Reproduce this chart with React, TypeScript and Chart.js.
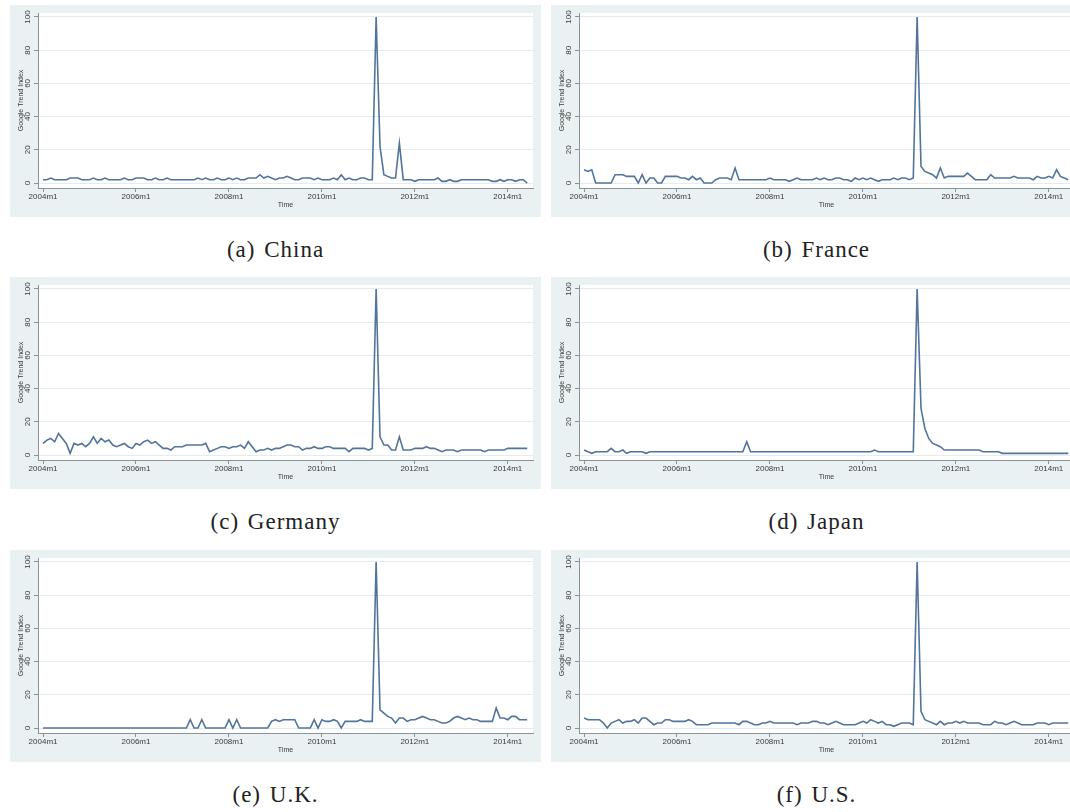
import React, { useEffect, useRef } from "react";
import { Chart, registerables } from "chart.js";

Chart.register(...registerables);

// Monthly Google Trend Index, 2004m1 .. 2014m6 (126 months)
const X_TICK_POS = [0, 24, 48, 72, 96, 120];
const X_TICK_LABELS = ["2004m1", "2006m1", "2008m1", "2010m1", "2012m1", "2014m1"];
const Y_TICKS = [0, 20, 40, 60, 80, 100];

const CHINA = [
  2, 2, 3, 2, 2, 2, 2, 3, 3, 3, 2, 2,
  2, 3, 2, 2, 3, 2, 2, 2, 2, 3, 2, 2,
  3, 3, 3, 2, 2, 3, 2, 2, 3, 2, 2, 2,
  2, 2, 2, 2, 3, 2, 3, 2, 2, 3, 2, 2,
  3, 2, 3, 2, 2, 3, 3, 3, 5, 3, 4, 3,
  2, 3, 3, 4, 3, 2, 2, 3, 3, 3, 2, 3,
  2, 2, 2, 3, 2, 5, 2, 3, 2, 2, 3, 3,
  2, 2, 100, 22, 5, 4, 3, 3, 24, 2, 2, 2,
  1, 2, 2, 2, 2, 2, 3, 1, 1, 2, 1, 1,
  2, 2, 2, 2, 2, 2, 2, 2, 1, 1, 2, 1,
  2, 2, 1, 2, 2, 0,
];

const FRANCE = [
  8, 7, 8, 0, 0, 0, 0, 0, 5, 5, 5, 4,
  4, 4, 0, 5, 0, 3, 3, 0, 0, 4, 4, 4,
  4, 3, 3, 2, 4, 2, 3, 0, 0, 0, 2, 3,
  3, 3, 2, 9, 2, 2, 2, 2, 2, 2, 2, 2,
  3, 2, 2, 2, 2, 1, 2, 3, 2, 2, 2, 2,
  3, 2, 3, 2, 2, 3, 3, 2, 2, 1, 3, 2,
  3, 2, 3, 2, 1, 2, 2, 2, 3, 2, 3, 3,
  2, 3, 100, 10, 7, 6, 5, 3, 9, 3, 4, 4,
  4, 4, 4, 6, 4, 2, 2, 2, 2, 5, 3, 3,
  3, 3, 3, 4, 3, 3, 3, 3, 2, 4, 3, 3,
  4, 3, 8, 4, 3, 2,
];

const GERMANY = [
  7, 9, 10, 8, 13, 10, 7, 1, 7, 6, 7, 5,
  7, 11, 7, 10, 8, 9, 6, 5, 6, 7, 5, 4,
  7, 6, 8, 9, 7, 8, 6, 4, 4, 3, 5, 5,
  5, 6, 6, 6, 6, 6, 7, 2, 3, 4, 5, 5,
  4, 5, 5, 6, 4, 8, 5, 2, 3, 3, 4, 3,
  4, 4, 5, 6, 6, 5, 5, 3, 4, 4, 5, 4,
  4, 5, 5, 4, 4, 4, 4, 2, 4, 4, 4, 4,
  3, 4, 100, 11, 6, 6, 3, 3, 11, 3, 3, 3,
  4, 4, 4, 5, 4, 4, 3, 2, 3, 3, 3, 2,
  3, 3, 3, 3, 3, 3, 2, 3, 3, 3, 3, 3,
  4, 4, 4, 4, 4, 4,
];

const JAPAN = [
  3, 2, 1, 2, 2, 2, 2, 4, 2, 2, 3, 1,
  2, 2, 2, 2, 1, 2, 2, 2, 2, 2, 2, 2,
  2, 2, 2, 2, 2, 2, 2, 2, 2, 2, 2, 2,
  2, 2, 2, 2, 2, 2, 8, 2, 2, 2, 2, 2,
  2, 2, 2, 2, 2, 2, 2, 2, 2, 2, 2, 2,
  2, 2, 2, 2, 2, 2, 2, 2, 2, 2, 2, 2,
  2, 2, 2, 3, 2, 2, 2, 2, 2, 2, 2, 2,
  2, 2, 100, 28, 16, 10, 7, 6, 5, 3, 3, 3,
  3, 3, 3, 3, 3, 3, 3, 2, 2, 2, 2, 2,
  1, 1, 1, 1, 1, 1, 1, 1, 1, 1, 1, 1,
  1, 1, 1, 1, 1, 1,
];

const UK = [
  0, 0, 0, 0, 0, 0, 0, 0, 0, 0, 0, 0,
  0, 0, 0, 0, 0, 0, 0, 0, 0, 0, 0, 0,
  0, 0, 0, 0, 0, 0, 0, 0, 0, 0, 0, 0,
  0, 0, 5, 0, 0, 5, 0, 0, 0, 0, 0, 0,
  5, 0, 5, 0, 0, 0, 0, 0, 0, 0, 0, 4,
  5, 4, 5, 5, 5, 5, 0, 0, 0, 0, 5, 0,
  5, 4, 4, 5, 4, 0, 4, 4, 4, 4, 5, 4,
  4, 4, 100, 11, 9, 7, 6, 3, 6, 6, 4, 5,
  5, 6, 7, 6, 5, 5, 4, 3, 3, 4, 6, 7,
  6, 5, 6, 5, 5, 4, 4, 4, 4, 12, 6, 6,
  5, 7, 7, 5, 5, 5,
];

const US = [
  6, 5, 5, 5, 5, 3, 0, 3, 4, 5, 3, 4,
  4, 5, 3, 6, 6, 4, 2, 3, 3, 5, 5, 4,
  4, 4, 4, 5, 4, 2, 2, 2, 2, 3, 3, 3,
  3, 3, 3, 3, 2, 4, 4, 3, 2, 2, 3, 3,
  4, 3, 3, 3, 3, 3, 3, 2, 3, 3, 3, 4,
  4, 3, 3, 2, 3, 4, 3, 2, 2, 2, 2, 3,
  4, 3, 5, 4, 3, 4, 2, 2, 1, 2, 3, 3,
  3, 2, 100, 10, 5, 4, 3, 2, 4, 2, 3, 3,
  4, 3, 4, 3, 3, 3, 3, 2, 2, 2, 4, 3,
  3, 2, 3, 4, 3, 2, 2, 2, 2, 3, 3, 3,
  2, 3, 3, 3, 3, 3,
];

const PANEL_TAGS = ["(a)", "(b)", "(c)", "(d)", "(e)", "(f)"];
const PANEL_NAMES = ["China", "France", "Germany", "Japan", "U.K.", "U.S."];
const PANEL_DATA = [CHINA, FRANCE, GERMANY, JAPAN, UK, US];

const Y_TITLE = "Google Trend Index";
const X_TITLE = "Time";

const PANEL_W = 531;
const PANEL_H = 212;
const COL_LEFT = [10, 551];
const ROW_TOP = [5, 277, 550];
const CAPTION_Y = [250, 522, 795];

const SANS = "'Liberation Sans', Arial, sans-serif";
const AXIS_COLOR = "#8d9296";
const TEXT_COLOR = "#3a3a3a";

const panelBg = {
  id: "panelBg",
  beforeDraw(chart: any) {
    const { ctx, width, height, chartArea } = chart;
    ctx.save();
    ctx.fillStyle = "#eaf1f3";
    ctx.fillRect(0, 0, width, height);
    ctx.fillStyle = "#ffffff";
    ctx.fillRect(
      chartArea.left,
      chartArea.top,
      chartArea.right - chartArea.left,
      chartArea.bottom - chartArea.top
    );
    ctx.restore();
  },
};

function Panel({ values }: { values: number[] }) {
  const ref = useRef<HTMLCanvasElement | null>(null);
  useEffect(() => {
    if (!ref.current) return;
    const chart = new Chart(ref.current, {
      type: "line",
      data: {
        datasets: [
          {
            data: values.map((v, i) => ({ x: i, y: v })),
            borderColor: "#52749a",
            borderWidth: 1.6,
            pointRadius: 0,
            tension: 0,
            fill: false,
          },
        ],
      },
      options: {
        responsive: false,
        animation: false,
        events: [],
        layout: { padding: { left: 0, top: 8, right: 8, bottom: 0 } },
        plugins: {
          legend: { display: false },
          tooltip: { enabled: false },
        },
        scales: {
          x: {
            type: "linear",
            min: -1.3,
            max: 126.5,
            afterBuildTicks: (s: any) => {
              s.ticks = X_TICK_POS.map((v) => ({ value: v }));
            },
            afterFit: (s: any) => {
              s.height = 29;
            },
            ticks: {
              autoSkip: false,
              maxRotation: 0,
              minRotation: 0,
              padding: 0,
              color: TEXT_COLOR,
              font: { family: SANS, size: 8 },
              callback: (_v: any, i: number) => X_TICK_LABELS[i],
            },
            grid: {
              drawOnChartArea: false,
              drawTicks: true,
              tickLength: 4,
              tickColor: AXIS_COLOR,
              color: AXIS_COLOR,
            },
            border: { display: true, color: AXIS_COLOR, width: 1 },
            title: {
              display: true,
              text: X_TITLE,
              color: TEXT_COLOR,
              font: { family: SANS, size: 7 },
              padding: { top: 0, bottom: 8 },
            },
          },
          y: {
            type: "linear",
            min: -3,
            max: 102.4,
            afterBuildTicks: (s: any) => {
              s.ticks = Y_TICKS.map((v) => ({ value: v }));
            },
            afterFit: (s: any) => {
              s.width = 28;
            },
            ticks: {
              minRotation: 90,
              maxRotation: 90,
              crossAlign: "center",
              padding: 0,
              color: TEXT_COLOR,
              font: { family: SANS, size: 8 },
              callback: (_v: any, i: number) => String(Y_TICKS[i]),
            },
            grid: {
              drawOnChartArea: true,
              drawTicks: true,
              tickLength: 4,
              tickColor: AXIS_COLOR,
              color: "#e3ecef",
              lineWidth: 1,
            },
            border: { display: true, color: AXIS_COLOR, width: 1 },
            title: {
              display: true,
              text: Y_TITLE,
              color: TEXT_COLOR,
              font: { family: SANS, size: 7 },
              padding: { top: 7, bottom: 0 },
            },
          },
        },
      } as any,
      plugins: [panelBg],
    });
    return () => chart.destroy();
  }, [values]);
  return (
    <canvas
      ref={ref}
      width={PANEL_W}
      height={PANEL_H}
      style={{ display: "block", width: PANEL_W, height: PANEL_H }}
    />
  );
}

export default function App() {
  return (
    <div
      style={{
        position: "fixed",
        left: 0,
        top: 0,
        width: 1070,
        height: 812,
        overflow: "hidden",
        background: "#ffffff",
      }}
    >
      {PANEL_DATA.map((values, k) => {
        const col = k % 2;
        const row = Math.floor(k / 2);
        const left = COL_LEFT[col];
        return (
          <React.Fragment key={k}>
            <div style={{ position: "absolute", left, top: ROW_TOP[row] }}>
              <Panel values={values} />
            </div>
            <div
              style={{
                position: "absolute",
                left,
                width: PANEL_W,
                top: CAPTION_Y[row] - 15,
                height: 30,
                lineHeight: "30px",
                textAlign: "center",
                fontFamily: "'Liberation Serif', 'Times New Roman', serif",
                fontSize: 23,
                letterSpacing: "1px",
                wordSpacing: "2px",
                color: "#222",
                whiteSpace: "pre",
              }}
            >
              {PANEL_TAGS[k] + " " + PANEL_NAMES[k]}
            </div>
          </React.Fragment>
        );
      })}
    </div>
  );
}
